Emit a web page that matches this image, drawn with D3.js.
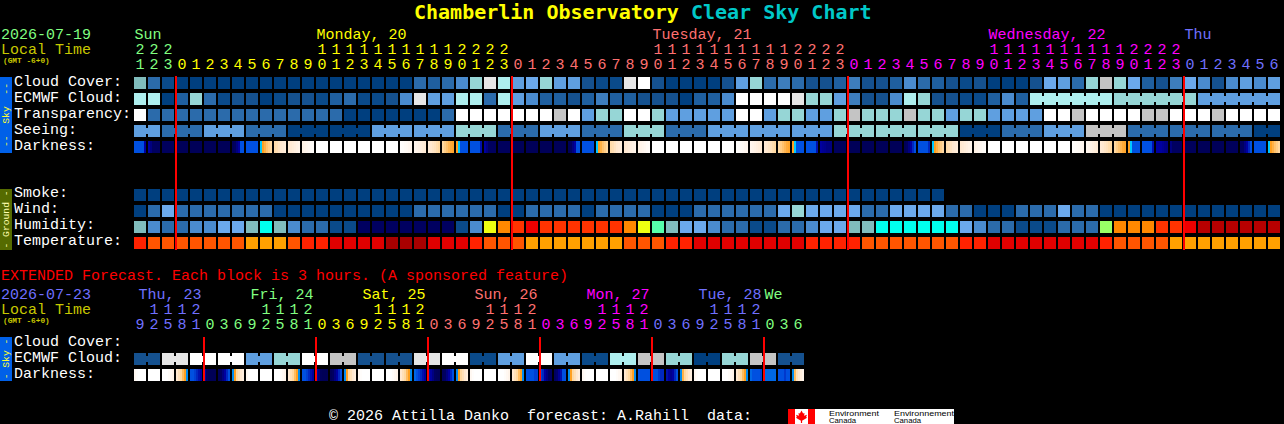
<!DOCTYPE html>
<html>
<head>
<meta charset="utf-8">
<script src="https://cdn.jsdelivr.net/npm/d3@7"></script>
<style>
html,body{margin:0;padding:0;background:#000;overflow:hidden}
svg{display:block}
text{font-family:"Liberation Mono",monospace;font-size:15px;white-space:pre}
</style>
</head>
<body>
<script>
// ---------- categories and tick labels ----------
const hours = [21,22,23,
  0,1,2,3,4,5,6,7,8,9,10,11,12,13,14,15,16,17,18,19,20,21,22,23,
  0,1,2,3,4,5,6,7,8,9,10,11,12,13,14,15,16,17,18,19,20,21,22,23,
  0,1,2,3,4,5,6,7,8,9,10,11,12,13,14,15,16,17,18,19,20,21,22,23,
  0,1,2,3,4,5,6];
const dayLabels = ["Sun","Monday, 20","Tuesday, 21","Wednesday, 22","Thu"];
const dayLabelCols = [0,13,37,61,75];
const dayStarts = [0,3,27,51,75];
const dayPalette = ["#80ff80","#ffff00","#ff7070","#ff00ff","#7070ff"];
const extHours = [9,12,15,18,21,
  0,3,6,9,12,15,18,21, 0,3,6,9,12,15,18,21, 0,3,6,9,12,15,18,21,
  0,3,6,9,12,15,18,21, 0,3,6,9,12,15,18,21, 0,3,6];
const extDayLabels = ["Thu, 23","Fri, 24","Sat, 25","Sun, 26","Mon, 27","Tue, 28","We"];
const extDayCols = [0,8,16,24,32,40,45];
const extDayStarts = [0,5,13,21,29,37,45];
const extDayPalette = ["#7070ff","#80ff80","#ffff00","#ff7070","#ff00ff","#7070ff","#80ff80"];

// ---------- colour levels ----------
const levelColours = ["#003f7f","#0a4a8a","#15518f","#1f5f9f","#2b6bab","#3d7dbd","#4a8bce","#5f9fe0","#6ba9ec",
  "#80bcbc","#96d6d6","#aeeeee","#c4c4c4","#e6e6e6","#ffffff",
  "#000060","#00ffee","#55ffaa","#99ff66","#eeff11","#ff8800","#ff3300","#ee0000","#b80000",
  "#ffa000","#ff5500","#ff2200","#e00000","#a80000"];
const darkStops = [0,1,2,3,4,5,6,7,8,9];
const darkColours = ["#ffffff","#fff4ea","#ffe8d0","#ffd8a0","#ffa020","#00c8ff","#0050e0","#0000a0","#000060","#000050"];

// ---------- hourly series (one level per hour) ----------
const cloudCover = [9,4,1,0,0,0,0,0,0,0,0,0,0,0,0,0,0,0,0,0,4,
  3,4,6,10,13,11,7,8,10,7,7,2,1,1,13,14,2,0,0,0,0,2,7,10,4,5,4,2,2,3,5,
  2,2,3,6,4,3,2,1,2,0,0,0,2,8,7,4,10,12,10,8,3,2,5,8,6,2,6,7,6,7];
const ecmwfCloud = [11,11,0,3,10,4,1,2,2,0,1,2,2,1,3,4,1,1,2,6,13,
  7,7,11,11,4,11,7,6,3,3,2,3,5,3,3,2,2,2,0,3,3,6,14,14,14,14,13,10,10,7,5,
  2,2,6,11,10,2,2,1,1,3,6,3,11,11,11,11,11,11,10,10,10,10,10,10,7,7,7,7,7,7];
const transparency = [14,4,4,4,4,4,4,4,4,4,4,4,4,4,4,0,0,0,0,0,0,
  0,4,14,14,14,14,14,14,14,12,14,7,10,10,14,14,10,7,7,7,7,7,14,14,7,10,10,7,7,10,12,
  10,10,10,12,10,10,7,10,10,7,7,7,7,14,14,12,14,14,14,14,12,12,14,14,14,12,14,14,14,14];
const seeing = [7,7,4,4,4,7,7,7,4,4,4,0,0,0,0,0,0,7,7,7,7,
  7,7,10,10,10,4,4,4,7,7,7,4,4,4,10,10,10,4,4,4,7,7,7,7,7,7,7,7,7,10,10,
  10,10,10,10,10,10,10,0,0,0,4,4,4,7,7,7,12,12,12,4,4,4,4,4,4,4,4,4,0,0];
const smoke = [0,0,0,0,0,0,0,0,0,0,0,0,0,0,0,0,0,0,0,0,0,
  0,0,0,0,0,0,0,0,0,0,0,0,0,0,0,0,0,0,0,0,0,0,0,0,0,0,0,0,0,0,0,
  0,0,0,0,0,0];
const wind = [0,4,8,4,4,4,4,4,4,4,0,0,0,0,0,0,0,0,0,0,4,
  4,4,4,4,4,0,0,4,4,4,4,0,4,4,4,4,0,0,0,4,4,4,4,4,4,8,10,8,8,8,8,
  4,4,8,8,8,8,4,4,0,0,0,4,4,4,8,4,4,0,0,0,0,0,0,0,0,0,0,0,0,0];
const humidity = [9,6,4,4,6,6,8,8,9,16,9,6,4,4,1,1,15,15,15,15,15,
  15,15,1,6,19,20,21,22,21,21,21,21,21,21,20,19,17,9,8,8,6,4,4,1,1,4,4,6,8,8,9,
  9,16,16,16,16,16,16,8,6,4,4,1,1,1,4,4,4,18,20,20,20,21,21,22,23,23,23,23,23,23];
const temperature = [26,25,25,25,25,25,25,25,24,24,24,25,26,26,27,27,27,27,28,28,28,
  27,27,27,26,25,25,25,24,24,24,24,24,24,24,25,25,25,26,26,27,27,27,27,27,27,27,27,26,26,26,26,
  25,25,25,25,25,25,25,26,26,27,27,27,27,27,27,27,27,26,25,25,25,25,24,24,24,24,24,24,24,24];
// darkness: each hour lists its left-to-right stripes, on the darkStops scale
const darkness = [
  [6,6,6,6,6,7],[7,7.5,8,8,8,8],[8.2],[8.5],[8.5],[8.5],[8.5],[8.5,8,7.5,7,6,6],[6],
  [5,4,3.7,3.4,3.2,3],[2.8,2.6,2.3,2,1.8,1.6],[2,1.8,1.6,1.4,1.2,1],[1.2,1,.8,.6,.4,.3],
  [0],[0],[0],[0],[0],[0],[.1,.2,.4,.5,.7,.8],[.8,1,1.2,1.4,1.6,1.8],[1.8,2,2.2,2.4,2.7,3],[3,3.2,3.4,3.6,3.8,3.9],
  [4,5,6,6,6,6],[6,6,6,6,6,6.8],[7,7.5,8,8,8,8],[8.2],[8.5],[8.5],[8.5],[8.5],[8.5,8,7.5,7,6,6],[6],
  [5,4,3.7,3.4,3.2,3],[2.8,2.6,2.3,2,1.8,1.6],[2,1.8,1.6,1.4,1.2,1],[1.2,1,.8,.6,.4,.3],
  [0],[0],[0],[0],[0],[0],[.1,.2,.4,.5,.7,.8],[.8,1,1.2,1.4,1.6,1.8],[1.8,2,2.2,2.4,2.7,3],[3,3.2,3.4,3.6,3.8,3.9],
  [4,5,6,6,6,6],[6,6,6,6,6,6.8],[7,7.2,7.3,7.5,7.5,7.5],[8.2],[8.5],[8.5],[8.5],[8.5],[8.5,8,7.5,7,6.5,6],[6,6,6,6,6,6.5],
  [5,4,3.7,3.4,3.2,3],[2.8,2.6,2.3,2,1.8,1.6],[2,1.8,1.6,1.4,1.2,1],[1.2,1,.8,.6,.4,.3],
  [0],[0],[0],[0],[0],[0],[.2,.3,.4,.5,.7,.8],[.8,1,1.2,1.4,1.6,1.8],[1.8,2,2.2,2.4,2.7,3],[3,3.2,3.4,3.6,3.8,3.9],
  [4,5,6,6,6,6],[6,6,6,6,6,6.8],[7,7,7,7.2,7.4,7.5],[7.5,8,8,8,8,8],[8.3],[8.5],[8.5],[8.3],[8,8,7.5,7,6.5,6],[6],
  [5,4,3.7,3.4,3.2,3]
];
// ---------- extended forecast (one level per 3-hour block, two columns each) ----------
const extEcmwf = [2,13,14,14,7,10,14,12,2,2,13,14,1,7,14,7,1,11,12,10,0,10,12,2];
const extDarkness = [
  [.6,.2,0,0,0,0],[0],[0,0,0,.3,.6,1],[2,2.5,3,3.5,4,5.5],[6,6,6.2,6.5,6.8,7],[7,8,8.5,8.6,8.6,8.6],[8.5,8,7.5,7,6.5,6],[5.5,4,3,2.5,2,1.5],
  [.6,.2,0,0,0,0],[0],[0,0,0,.3,.6,1],[2,2.5,3,3.5,4,5.5],[6,6,6.2,6.5,6.8,7],[7,7.6,8.3,8.6,8.6,8.6],[8.5,8,7.5,7,6.5,6],[5.5,4,3,2.5,2,1.5],
  [.6,.2,0,0,0,0],[0],[0,0,0,.3,.6,1],[2,2.5,3,3.5,4,5.5],[5.8,6,6.2,6.5,6.8,7],[6.8,7,7.5,8,8.3,8.5],[8.3,8,7.5,7,6.5,6],[5.5,4,3,2.5,2,1.5],
  [.6,.2,0,0,0,0],[0],[0,0,0,.3,.6,1],[2,2.5,3,3.5,4,5.5],[6,6,6,6,6.2,6.2],[6.2,6.5,7,7.5,8,8],[8,7.8,7.2,6.8,6,6],[5.5,4,3,2.5,2,1.5],
  [.6,.2,0,0,0,0],[0],[0,0,0,.3,.6,1],[2,2.5,3,3.5,4,5.5],[6,6,6,6,6,6],[6,6,6,6.3,6.5,6.5],[6.8,7,7.3,7,6.5,6],[5.5,3.7,3,2.5,2,1.5],
  [.6,.2,0,0,0,0],[0],[0,0,0,.3,.6,1],[2,2.5,3,3.5,4,5.5],[5.8,6,6,6,6,6.2],[5.8,5.8,5.8,5.8,5.8,5.8],[6,6,6,6.3,6,6],[5.5,3.5,2.5,2,1.5,1]
];

// ---------- scales ----------
const nHours = hours.length, nExt = extHours.length;
const STEP = 14, LEFT = 134, CELL = 12;
const x = d3.scaleBand().domain(d3.range(nHours))
  .range([LEFT, LEFT + nHours*STEP - (STEP-CELL)]).paddingInner((STEP-CELL)/STEP).paddingOuter(0);
const xExt = d3.scaleBand().domain(d3.range(nExt))
  .range([LEFT, LEFT + nExt*STEP - (STEP-CELL)]).paddingInner((STEP-CELL)/STEP).paddingOuter(0);
const level = d3.scaleOrdinal(d3.range(levelColours.length), levelColours);
const darkColour = d3.scaleLinear().domain(darkStops).range(darkColours).interpolate(d3.interpolateRgb);
const dayColour = d3.scaleThreshold().domain(dayStarts.slice(1)).range(dayPalette);
const extDayColour = d3.scaleThreshold().domain(extDayStarts.slice(1)).range(extDayPalette);

const svg = d3.select("body").append("svg").attr("width",1284).attr("height",424)
  .style("background","#000");

function label(txt,xp,yp,col){
  return svg.append("text").attr("x",xp).attr("y",yp).attr("fill",col).text(txt);
}

// ---------- title ----------
const title = svg.append("text").attr("x",414).attr("y",19)
  .style("font-family","'DejaVu Sans Mono',monospace").style("font-size","20px").style("font-weight","bold");
title.append("tspan").attr("fill","#ffff00").text("Chamberlin Observatory ");
title.append("tspan").attr("fill","#00c8c8").text("Clear Sky Chart");

// ---------- headers ----------
function tickAxis(scale,ticks,fmt,yp,colourOf){
  const g = svg.append("g").attr("transform",`translate(0,${yp})`)
    .call(d3.axisTop(scale).tickValues(ticks).tickSize(0).tickSizeOuter(0).tickFormat(fmt));
  g.select(".domain").remove();
  g.selectAll(".tick text").attr("y",0).attr("dy",0).attr("fill",d=>colourOf(d))
    .style("font-family",'"Liberation Mono",monospace').style("font-size","15px");
  g.attr("text-anchor","middle");
}
function header(dateTxt,dateCol,ys,scale,hrs,colourOf,labels,cols,labelCols,off){
  label(dateTxt,1,ys[0],dateCol);
  label("Local Time",1,ys[1],"#c8c800");
  label("(GMT -6+0)",3,ys[2],"#c8c800").style("font-size","7.8px").style("font-weight","bold");
  labels.forEach((t,i)=>label(t,scale(cols[i])+off(i),ys[0],labelCols[i]));
  const idx = d3.range(hrs.length);
  tickAxis(scale,idx.filter(i=>hrs[i]>=10),i=>Math.floor(hrs[i]/10),ys[1],colourOf);
  tickAxis(scale,idx,i=>hrs[i]%10,ys[3],colourOf);
}
header("2026-07-19","#80ff80",[39,54,63,69],x,hours,dayColour,dayLabels,dayLabelCols,dayPalette,()=>0.5);
header("2026-07-23","#7070ff",[299,314,323,329],xExt,extHours,
  i=>extDayColour(i),extDayLabels,extDayCols,extDayPalette,i=>i===6?0.5:4.5);

// ---------- row labels ----------
const skyLabels = ["Cloud Cover:","ECMWF Cloud:","Transparency:","Seeing:","Darkness:"];
const skyY = [77,93,109,125,141];
const groundLabels = ["Smoke:","Wind:","Humidity:","Temperature:"];
const groundY = [189,205,221,237];
const extLabels = ["Cloud Cover:","ECMWF Cloud:","Darkness:"];
const extY = [337,353,369];
skyLabels.forEach((t,i)=>label(t,14,skyY[i]+9,"#fff"));
groundLabels.forEach((t,i)=>label(t,14,groundY[i]+8,"#fff"));
extLabels.forEach((t,i)=>label(t,14,extY[i]+8.5,"#fff"));

// ---------- cells ----------
function row(values,yp,scale,blockOf){
  const g = svg.append("g");
  g.selectAll("rect.c").data(values).join("rect").attr("class","c")
    .attr("x",(d,i)=>scale(i)).attr("y",yp)
    .attr("width",scale.bandwidth()).attr("height",CELL)
    .attr("fill",d=>level(d));
  if(blockOf){
    const pairs = d3.range(values.length-1).filter(i=>blockOf(i)!==null && blockOf(i)===blockOf(i+1));
    g.selectAll("rect.b").data(pairs).join("rect").attr("class","b")
      .attr("x",i=>scale(i)+scale.bandwidth()).attr("y",yp+3)
      .attr("width",scale.step()-scale.bandwidth()).attr("height",CELL-6)
      .attr("fill",i=>level(values[i]));
  }
}
function darkRow(values,yp,scale){
  const g = svg.append("g");
  values.forEach((stripes,i)=>{
    const s = d3.scaleBand().domain(d3.range(stripes.length)).range([scale(i),scale(i)+scale.bandwidth()]);
    g.selectAll(null).data(stripes).join("rect")
      .attr("x",(d,j)=>s(j)).attr("y",yp).attr("width",s.bandwidth()).attr("height",CELL)
      .attr("fill",d=>darkColour(d));
  });
}
const seeingBlock = i=>Math.floor((i+1)/3);
const ecmwfBlock = i=> i<64 ? null : Math.floor((i-64)/6);
row(cloudCover,skyY[0],x);
row(ecmwfCloud,skyY[1],x,ecmwfBlock);
row(transparency,skyY[2],x);
row(seeing,skyY[3],x,seeingBlock);
darkRow(darkness,skyY[4],x);
row(smoke,groundY[0],x);
row(wind,groundY[1],x);
row(humidity,groundY[2],x);
row(temperature,groundY[3],x);
row(extEcmwf.flatMap(v=>[v,v]),extY[1],xExt,i=>Math.floor(i/2));
darkRow(extDarkness,extY[2],xExt);

// ---------- midnight lines ----------
svg.append("g").selectAll("rect").data(hours.map((h,i)=>h===0?i:-1).filter(i=>i>=0)).join("rect")
  .attr("x",i=>x(i)-1).attr("y",76).attr("width",2).attr("height",174).attr("fill","#ff0000");
svg.append("g").selectAll("rect").data(extHours.map((h,i)=>h===0?i:-1).filter(i=>i>=0)).join("rect")
  .attr("x",i=>xExt(i)-1).attr("y",337).attr("width",2).attr("height",44).attr("fill","#ff0000");

// ---------- side bars ----------
function sideBar(y0,y1,fill,txt,col){
  svg.append("rect").attr("x",0).attr("y",y0).attr("width",12).attr("height",y1-y0).attr("fill",fill);
  svg.append("text").attr("transform",`translate(9,${(y0+y1)/2}) rotate(-90)`)
    .attr("text-anchor","middle").attr("fill",col).style("font-size","9.7px").text(txt);
}
sideBar(77,153,"#0060e8","--  Sky  --","#ffff30");
sideBar(189,250,"#556b00","- Ground -","#ffffb0");
sideBar(337,381,"#0060e8","- Sky -","#ffff30");

// ---------- extended caption and footer ----------
label("EXTENDED Forecast. Each block is 3 hours. (A sponsored feature)",1,280,"#ff0000");
label("© 2026 Attilla Danko  forecast: A.Rahill  data:",329,420,"#ffffff");

// ---------- Environment Canada logo ----------
svg.append("rect").attr("x",788).attr("y",409).attr("width",166).attr("height",15).attr("fill","#fff");
svg.append("rect").attr("x",788).attr("y",409).attr("width",7).attr("height",15).attr("fill","#ff0000");
svg.append("rect").attr("x",808).attr("y",409).attr("width",7).attr("height",15).attr("fill","#ff0000");
svg.append("path").attr("fill","#ff0000").attr("transform","translate(801.5,416.5)")
  .attr("d","M0,-6 L1.6,-3 L3,-3.6 L2.6,-0.8 L5.5,-1.8 L4.6,0.4 L5.6,1.2 L1,4 L0.6,4 L0.6,6.5 L-0.6,6.5 L-0.6,4 L-1,4 L-5.6,1.2 L-4.6,0.4 L-5.5,-1.8 L-2.6,-0.8 L-3,-3.6 L-1.6,-3 Z");
[["Environment",829,415.5,50],["Canada",829,422.5,27],["Environnement",894,415.5,60],["Canada",894,422.5,27]]
  .forEach(([t,px,py,w])=>svg.append("text").attr("x",px).attr("y",py).attr("fill","#000")
    .attr("textLength",w).attr("lengthAdjust","spacingAndGlyphs")
    .style("font-family",'"Liberation Sans",sans-serif').style("font-size","8px").text(t));
</script>
</body>
</html>
